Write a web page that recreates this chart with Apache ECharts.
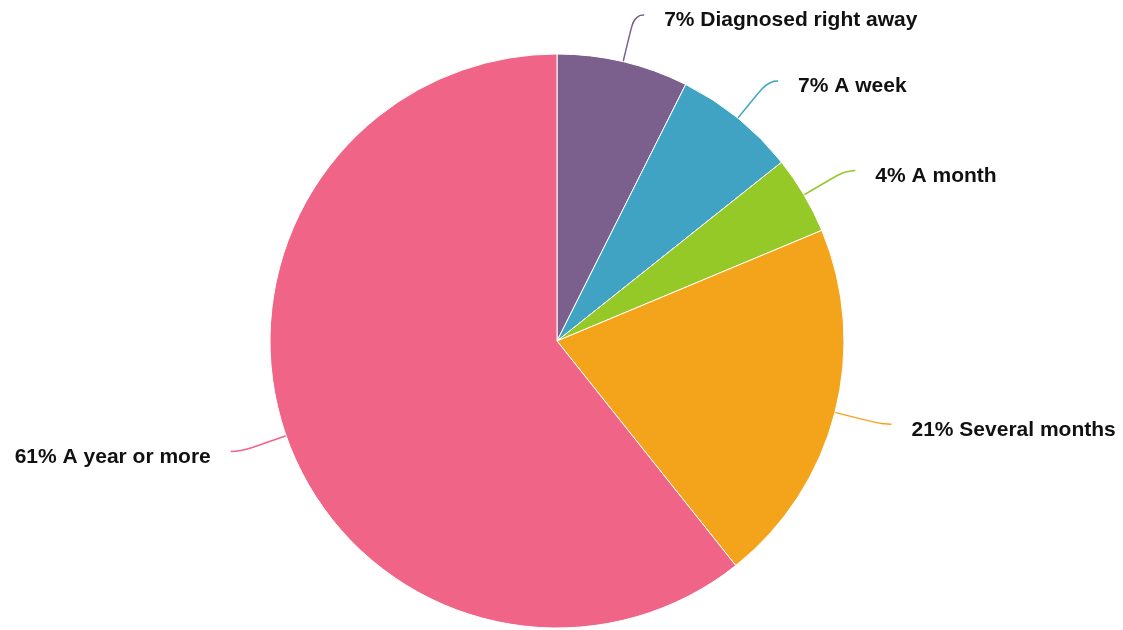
<!DOCTYPE html>
<html>
<head>
<meta charset="utf-8">
<script src="https://cdn.jsdelivr.net/npm/echarts@6/dist/echarts.min.js"></script>
<style>html,body{margin:0;padding:0;background:#fff}#c{width:1123px;height:630px}</style>
</head>
<body>
<div id="c"></div>
<script>
const categories = ["Diagnosed right away", "A week", "A month", "Several months", "A year or more"];
const values = [7.4, 6.9, 4.4, 20.6, 60.7];
const colors = ["#7b5f8d", "#40a3c3", "#95c928", "#f4a41b", "#ef6487"];

const chart = echarts.init(document.getElementById('c'));
chart.setOption({
  animation: false,
  series: [{
    type: 'pie',
    center: [557, 341],
    radius: [0, 287],
    startAngle: 90,
    clockwise: true,
    data: categories.map((c, i) => ({ name: c, value: values[i], itemStyle: { color: colors[i] } })),
    itemStyle: { borderColor: '#fff', borderWidth: 1 },
    label: {
      show: true,
      formatter: p => '{t|' + Math.round(p.value) + '% ' + p.name + '}',
      overflow: 'none',
      distanceToLabelLine: 20,
      rich: {
        t: {
          color: '#111',
          fontFamily: 'Liberation Sans, Arial, sans-serif',
          fontWeight: 'bold',
          fontSize: 21,
          padding: [11, 0, 0, 0]
        }
      }
    },
    labelLine: {
      show: true,
      length: 48,
      length2: 10,
      smooth: 0.6,
      lineStyle: { width: 1.5 }
    }
  }]
});
</script>
</body>
</html>
